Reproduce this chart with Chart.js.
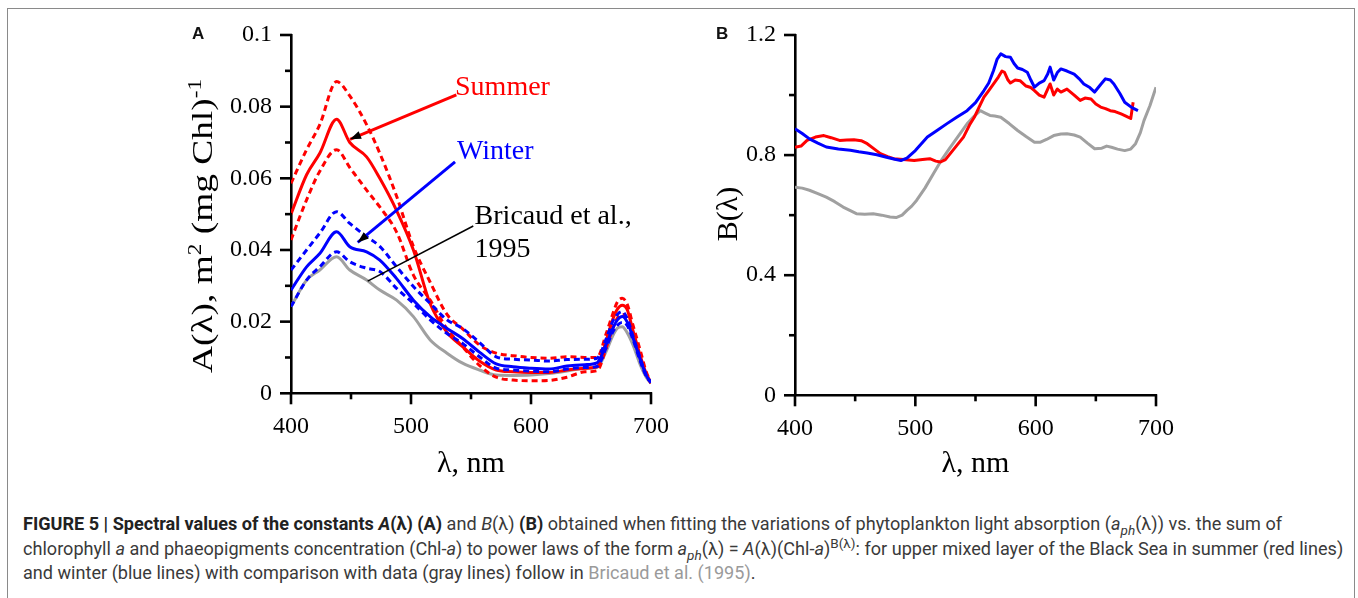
<!DOCTYPE html>
<html><head><meta charset="utf-8">
<script src="https://cdn.jsdelivr.net/npm/chart.js@4"></script>
<style>
html,body{margin:0;padding:0;background:#fff;width:1358px;height:598px;overflow:hidden;}
#frame{position:absolute;left:7px;top:8px;width:1348px;height:620px;border:1.5px solid #8a8a8a;box-sizing:border-box;}
canvas{position:absolute;top:0;}
#ca{left:0}
#cb{left:640px}
.panel{position:absolute;font:bold 17px "Liberation Sans",Arial,sans-serif;color:#111;line-height:17px;}
#caption{position:absolute;left:23px;top:512px;font-family:"Liberation Sans Narrow","Roboto","Liberation Sans",sans-serif;font-size:17.5px;line-height:24.5px;color:#3a3a3a;white-space:nowrap;transform-origin:0 0;}
#caption b{color:#222}
#caption sub,#caption sup{font-size:0.75em;line-height:0}
.cite{color:#9a9a9a}
</style></head>
<body>
<div id="frame"></div>
<canvas id="ca" width="720" height="482"></canvas>
<canvas id="cb" width="560" height="482"></canvas>
<div class="panel" style="left:192px;top:25px">A</div>
<div class="panel" style="left:716px;top:25px">B</div>
<div id="caption">
<div id="l1"><b>FIGURE 5 | Spectral values of the constants <i>A</i>(λ) (A)</b> and <i>B</i>(λ) <b>(B)</b> obtained when fitting the variations of phytoplankton light absorption (<i>a<sub>ph</sub></i>(λ)) vs. the sum of</div>
<div id="l2">chlorophyll <i>a</i> and phaeopigments concentration (Chl-<i>a</i>) to power laws of the form <i>a<sub>ph</sub></i>(λ) = <i>A</i>(λ)(Chl-<i>a</i>)<sup>B(λ)</sup>: for upper mixed layer of the Black Sea in summer (red lines)</div>
<div id="l3">and winter (blue lines) with comparison with data (gray lines) follow in <span class="cite">Bricaud et al. (1995)</span>.</div>
</div>
<script>
// ---------- Panel A data ----------
const lambdaA = [400,413,424,438,449,463,474,488,502,516,530,543,557,571,585,600,615,630,645,655,663,668,672,676,680,685,691,696,700];
const summerA      = [0.050,0.061,0.067,0.0765,0.070,0.066,0.060,0.051,0.040,0.025,0.017,0.0130,0.0090,0.0065,0.0060,0.0058,0.0058,0.0065,0.0070,0.0074,0.015,0.0205,0.0235,0.0246,0.0235,0.0175,0.0105,0.0055,0.003];
const summerUpperA = [0.0586,0.068,0.075,0.087,0.083,0.075,0.067,0.055,0.041,0.031,0.022,0.018,0.0135,0.0112,0.0105,0.0100,0.0098,0.0102,0.0100,0.0100,0.017,0.022,0.0255,0.0265,0.025,0.019,0.012,0.006,0.003];
const summerLowerA = [0.0428,0.054,0.062,0.068,0.063,0.0567,0.052,0.045,0.033,0.026,0.018,0.013,0.0078,0.0045,0.0037,0.0035,0.0036,0.0045,0.0060,0.0063,0.013,0.018,0.021,0.022,0.021,0.016,0.0095,0.005,0.0028];
const winterA      = [0.0288,0.0353,0.039,0.0451,0.0409,0.0395,0.0372,0.032,0.026,0.0214,0.0181,0.0153,0.0115,0.0082,0.0074,0.0070,0.0068,0.0076,0.0080,0.0085,0.014,0.018,0.0205,0.0214,0.020,0.0155,0.0095,0.005,0.003];
const winterUpperA = [0.0344,0.040,0.0447,0.0507,0.0474,0.0437,0.041,0.0353,0.0298,0.0251,0.0205,0.0181,0.0142,0.0102,0.0095,0.0093,0.0090,0.0094,0.0095,0.0098,0.0155,0.020,0.022,0.0228,0.021,0.016,0.0098,0.0052,0.003];
const winterLowerA = [0.0242,0.0316,0.0353,0.0395,0.0367,0.0349,0.034,0.0293,0.0251,0.0205,0.0167,0.0139,0.0102,0.0070,0.0065,0.0062,0.0060,0.0068,0.0072,0.0075,0.013,0.017,0.019,0.0198,0.019,0.015,0.009,0.0048,0.003];
const bricaudA     = [0.0242,0.0316,0.0344,0.0381,0.0344,0.0316,0.0288,0.026,0.0214,0.0149,0.0112,0.0084,0.0065,0.0051,0.0050,0.0051,0.0055,0.0062,0.0070,0.0072,0.012,0.016,0.0182,0.0186,0.017,0.0135,0.008,0.0045,0.0028];

// ---------- Panel B data ----------
const lambdaWinterB = [400,406,412,419,426,436,446,453,460,468,476,483,488,493,500,510,518,526,534,543,550,557,561,565,568,571,575,579,582,585,589,593,596,599,603,607,610,612,615,618,621,626,632,636,640,645,649,654,658,662,665,670,674,680,685];
const winterB = [0.888,0.872,0.854,0.84,0.827,0.82,0.816,0.811,0.807,0.801,0.793,0.786,0.782,0.79,0.815,0.86,0.882,0.904,0.925,0.948,0.975,1.015,1.04,1.082,1.12,1.137,1.128,1.126,1.105,1.09,1.085,1.076,1.05,1.026,1.04,1.048,1.07,1.093,1.05,1.075,1.087,1.08,1.07,1.055,1.037,1.025,1.01,1.035,1.054,1.05,1.037,1.005,0.976,0.958,0.948];
const lambdaSummerB = [400,405,410,417,424,430,437,443,449,455,460,466,471,477,482,490,499,506,512,517,521,525,529,534,540,545,549,553,557,561,565,569,572,574,577,579,583,587,592,596,599,603,607,610,612,615,618,621,626,632,637,641,646,650,654,658,662,666,671,675,679,681];
const summerB = [0.826,0.83,0.849,0.86,0.865,0.858,0.849,0.85,0.851,0.848,0.838,0.82,0.805,0.795,0.788,0.785,0.782,0.785,0.788,0.78,0.777,0.785,0.805,0.83,0.86,0.9,0.926,0.96,0.993,1.015,1.037,1.06,1.08,1.076,1.05,1.04,1.05,1.048,1.03,1.025,1.015,1.0,0.993,1.02,1.037,1.0,1.02,1.01,1.02,1.0,0.982,0.99,0.987,0.97,0.96,0.955,0.948,0.945,0.937,0.93,0.922,0.976];
const lambdaBricaudB = [400,406,412,419,426,433,440,446,451,458,465,472,479,484,489,493,497,501,508,515,522,529,536,543,549,554,558,562,566,571,578,585,592,599,604,609,615,621,626,632,637,643,649,655,659,663,668,674,679,683,687,690,695,700];
const bricaudB = [0.693,0.69,0.683,0.672,0.66,0.645,0.627,0.615,0.605,0.603,0.605,0.6,0.594,0.592,0.6,0.616,0.63,0.649,0.69,0.738,0.785,0.826,0.865,0.904,0.93,0.948,0.94,0.932,0.93,0.926,0.905,0.882,0.862,0.843,0.843,0.852,0.865,0.87,0.871,0.867,0.86,0.84,0.821,0.823,0.83,0.826,0.82,0.815,0.82,0.838,0.875,0.915,0.965,1.026];

// ---------- ticks ----------
const xTickValues = [400,500,600,700];
const xTickLabels = ['400','500','600','700'];
const xMinorTicks = [450,550,650];
const aYTickValues = [0,0.02,0.04,0.06,0.08,0.1];
const aYTickLabels = ['0','0.02','0.04','0.06','0.08','0.1'];
const aYMinorTicks = [0.01,0.03,0.05,0.07,0.09];
const bYTickValues = [0,0.4,0.8,1.2];
const bYTickLabels = ['0','0.4','0.8','1.2'];
const bYMinorTicks = [0.2,0.6,1.0];

// ---------- annotations (panel A, in data units) ----------
const annoLabels = ['Summer','Winter','Bricaud et al.,','1995'];
const annoLabelX = [536.7,538.3,553,553];
const annoLabelY = [0.0852,0.0674,0.0492,0.0400];
const annoLabelColors = ['#ff0000','#0000ff','#000000','#000000'];
const leaderFromX = [537.8,536.7,551.9];
const leaderFromY = [0.0833,0.0646,0.0467];
const leaderToX = [449.2,455.6,463.9];
const leaderToY = [0.0709,0.0421,0.0313];
const leaderColors = ['#ff0000','#0000ff','#000000'];
const leaderWidths = [3,3,1.5];
const leaderArrow = [true,true,false];

const RED='#ff0000', BLUE='#0000ff', GRAY='#a0a0a0';
const SERIF='"Liberation Serif","Times New Roman",serif';

function pts(xs, ys){ return xs.map((x,i)=>({x:x,y:ys[i]})); }

const tickPlugin = {
  id:'customTicks',
  afterDraw(chart, args, o){
    const ctx=chart.ctx, xs=chart.scales.x, ys=chart.scales.y;
    ctx.save(); ctx.strokeStyle='#000'; ctx.lineWidth=2.6; ctx.lineCap='butt';
    const x0=xs.top, y0=ys.right;
    const vt=(v,len)=>{const p=xs.getPixelForValue(v); ctx.beginPath(); ctx.moveTo(p,x0-1); ctx.lineTo(p,x0+len); ctx.stroke();};
    const ht=(v,len)=>{const p=ys.getPixelForValue(v); ctx.beginPath(); ctx.moveTo(y0+1,p); ctx.lineTo(y0-len,p); ctx.stroke();};
    o.xMajor.forEach(v=>vt(v,11)); o.xMinor.forEach(v=>vt(v,6));
    o.yMajor.forEach(v=>ht(v,11)); o.yMinor.forEach(v=>ht(v,6));
    ctx.restore();
  }
};

const yTitlePlugin = {
  id:'yTitle',
  afterDraw(chart, args, o){
    const ctx=chart.ctx; ctx.save();
    ctx.translate(o.cx,o.cy); ctx.rotate(-Math.PI/2);
    ctx.fillStyle='#000'; ctx.textBaseline='alphabetic';
    const big=o.size+'px '+SERIF, small=Math.round(o.size*0.62)+'px '+SERIF;
    let w=0; o.parts.forEach(p=>{ctx.font=p.sup?small:big; w+=ctx.measureText(p.t).width;});
    if(o.length){ ctx.scale(o.length/w,1); }
    let x=-w/2; const base=o.size*0.35;
    o.parts.forEach(p=>{ctx.font=p.sup?small:big; ctx.fillText(p.t,x,p.sup?base-o.size*0.38:base); x+=ctx.measureText(p.t).width;});
    ctx.restore();
  }
};

const annoPlugin = {
  id:'anno',
  afterDraw(chart, args, o){
    if(!o.on) return;
    const ctx=chart.ctx, xs=chart.scales.x, ys=chart.scales.y;
    ctx.save();
    for(let i=0;i<leaderFromX.length;i++){
      const x1=xs.getPixelForValue(leaderFromX[i]), y1=ys.getPixelForValue(leaderFromY[i]);
      const x2=xs.getPixelForValue(leaderToX[i]), y2=ys.getPixelForValue(leaderToY[i]);
      ctx.strokeStyle=leaderColors[i]; ctx.lineWidth=leaderWidths[i];
      ctx.beginPath(); ctx.moveTo(x1,y1); ctx.lineTo(x2,y2); ctx.stroke();
      if(leaderArrow[i]){
        const a=Math.atan2(y2-y1,x2-x1), L=11, H=4;
        ctx.fillStyle='#000';
        ctx.beginPath(); ctx.moveTo(x2,y2);
        ctx.lineTo(x2-L*Math.cos(a)+H*Math.sin(a), y2-L*Math.sin(a)-H*Math.cos(a));
        ctx.lineTo(x2-L*Math.cos(a)-H*Math.sin(a), y2-L*Math.sin(a)+H*Math.cos(a));
        ctx.closePath(); ctx.fill();
      }
    }
    ctx.font='28px '+SERIF; ctx.textBaseline='middle'; ctx.textAlign='left';
    annoLabels.forEach((t,i)=>{ctx.fillStyle=annoLabelColors[i]; ctx.fillText(t, xs.getPixelForValue(annoLabelX[i]), ys.getPixelForValue(annoLabelY[i]));});
    ctx.restore();
  }
};

function ds(data,color,dash,order){
  return {data:data, borderColor:color, borderWidth:3, borderDash:dash||[], pointRadius:0, fill:false, order:order};
}

function makeChart(id, datasets, cfg){
  return new Chart(document.getElementById(id), {
    type:'line',
    data:{datasets:datasets},
    options:{
      responsive:false, animation:false, events:[],
      elements:{line:{tension:cfg.tension, cubicInterpolationMode:cfg.tension?'monotone':'default', borderCapStyle:'butt', borderJoinStyle:'round'}},
      layout:{padding:{left:0, top:cfg.top, right:cfg.right, bottom:0}},
      plugins:{
        legend:{display:false}, tooltip:{enabled:false},
        customTicks:{xMajor:xTickValues, xMinor:xMinorTicks, yMajor:cfg.yTicks, yMinor:cfg.yMinor},
        yTitle:cfg.yTitle,
        anno:{on:cfg.anno}
      },
      scales:{
        x:{type:'linear', min:400, max:700,
          afterBuildTicks:s=>{s.ticks=xTickValues.map(v=>({value:v}));},
          afterFit:s=>{s.height=cfg.xHeight;},
          grid:{display:false, drawTicks:true, tickLength:11},
          border:{display:true, color:'#000', width:2.6},
          ticks:{font:{family:SERIF,size:24}, color:'#000', padding:8, maxRotation:0, autoSkip:false,
                 callback:v=>xTickLabels[xTickValues.indexOf(v)]},
          title:{display:true, text:'λ, nm', font:{family:SERIF,size:30}, color:'#000', padding:{top:2,bottom:0}}
        },
        y:{type:'linear', min:0, max:cfg.yMax,
          afterBuildTicks:s=>{s.ticks=cfg.yTicks.map(v=>({value:v}));},
          afterFit:s=>{s.width=cfg.yWidth;},
          grid:{display:false, drawTicks:true, tickLength:11},
          border:{display:true, color:'#000', width:2.6},
          ticks:{font:{family:SERIF,size:24}, color:'#000', padding:8, autoSkip:false,
                 callback:v=>cfg.yLabels[cfg.yTicks.indexOf(v)]}
        }
      }
    },
    plugins:[tickPlugin, yTitlePlugin, annoPlugin]
  });
}

makeChart('ca', [
  ds(pts(lambdaA,winterUpperA),BLUE,[6,4],1),
  ds(pts(lambdaA,winterLowerA),BLUE,[6,4],2),
  ds(pts(lambdaA,winterA),BLUE,null,0),
  ds(pts(lambdaA,summerUpperA),RED,[6,4],4),
  ds(pts(lambdaA,summerLowerA),RED,[6,4],5),
  ds(pts(lambdaA,summerA),RED,null,3),
  ds(pts(lambdaA,bricaudA),GRAY,null,6)
], {tension:0.4, top:35, right:69, xHeight:88.7, yWidth:291, yMax:0.1,
    yTicks:aYTickValues, yLabels:aYTickLabels, yMinor:aYMinorTicks, anno:true,
    yTitle:{cx:202, cy:226, size:29, length:294, parts:[{t:'A(λ), m'},{t:'2',sup:true},{t:' (mg Chl)'},{t:'-1',sup:true}]}});

makeChart('cb', [
  ds(pts(lambdaWinterB,winterB),BLUE,null,0),
  ds(pts(lambdaSummerB,summerB),RED,null,1),
  ds(pts(lambdaBricaudB,bricaudB),GRAY,null,2)
], {tension:0, top:35, right:44, xHeight:86.7, yWidth:155, yMax:1.2,
    yTicks:bYTickValues, yLabels:bYTickLabels, yMinor:bYMinorTicks, anno:false,
    yTitle:{cx:86, cy:214, size:30, parts:[{t:'B(λ)'}]}});

// fit caption lines to their width in the reference
(function(){
  const cap=document.getElementById('caption');
  const w=document.getElementById('l2').scrollWidth;
  const f=1320/w;
  cap.style.transform='scaleX('+f+')';
})();
</script>
</body></html>
